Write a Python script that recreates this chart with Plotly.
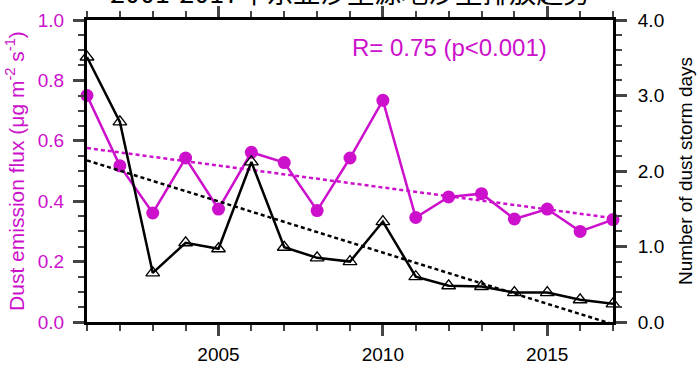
import plotly.graph_objects as go

years = list(range(2001, 2018))
flux = [0.75, 0.517, 0.361, 0.543, 0.374, 0.562, 0.528, 0.369, 0.543, 0.734,
        0.346, 0.414, 0.425, 0.341, 0.374, 0.300, 0.339]
storm_days = [3.51, 2.65, 0.65, 1.05, 0.97, 2.12, 0.99, 0.85, 0.80, 1.33,
              0.60, 0.48, 0.47, 0.39, 0.39, 0.295, 0.24]
trend_years = [2001, 2017]
flux_trend = [0.576, 0.344]
days_trend = [2.14, -0.03]

title_text = "2001-2017年东亚沙尘源地沙尘排放趋势"
r_text = "R= 0.75 (p<0.001)"

MAG = "#cc10cc"
FONT = "Liberation Sans, Arial, sans-serif"

fig = go.Figure()
fig.add_trace(go.Scatter(x=trend_years, y=flux_trend, mode="lines",
                         line=dict(color=MAG, width=2.5, dash="4px,3px"),
                         showlegend=False, yaxis="y"))
fig.add_trace(go.Scatter(x=trend_years, y=days_trend, mode="lines",
                         line=dict(color="black", width=2.5, dash="4px,3px"),
                         showlegend=False, yaxis="y2"))
fig.add_trace(go.Scatter(x=years, y=flux, mode="lines+markers",
                         line=dict(color=MAG, width=2.5),
                         marker=dict(symbol="circle", size=13, color=MAG),
                         showlegend=False, yaxis="y", cliponaxis=False))
fig.add_trace(go.Scatter(x=years, y=storm_days, mode="lines+markers",
                         line=dict(color="black", width=2.5),
                         marker=dict(symbol="triangle-up-open", size=12, color="black",
                                     line=dict(width=1.3)),
                         showlegend=False, yaxis="y2", cliponaxis=False))

fig.update_layout(
    template="none",
    width=700, height=369,
    margin=dict(l=87, r=87, t=20, b=47, autoexpand=False),
    paper_bgcolor="white", plot_bgcolor="white",
    font=dict(family=FONT, size=19, color="black"),
    xaxis=dict(range=[2001, 2017], tick0=2000, dtick=5, ticks="outside", ticklen=11,
               tickwidth=2.5, showline=True, linewidth=3, linecolor="black",
               mirror="ticks", showgrid=False, zeroline=False, automargin=False,
               tickfont=dict(size=19), ticklabelstandoff=2,
               minor=dict(dtick=1, tick0=2000, ticks="outside", ticklen=6, tickwidth=2,
                          showgrid=False)),
    yaxis=dict(range=[0, 1], dtick=0.2, tickformat=".1f", ticks="outside", ticklen=11,
               tickwidth=2.5, showline=True, linewidth=3, linecolor="black",
               showgrid=False, zeroline=False, automargin=False, ticklabelstandoff=5,
               tickfont=dict(size=19, color=MAG),
               minor=dict(dtick=0.05, ticks="outside", ticklen=6, tickwidth=2,
                          showgrid=False)),
    yaxis2=dict(range=[0, 4], dtick=1, tickformat=".1f", ticks="outside", ticklen=11,
                tickwidth=2.5, showline=True, linewidth=3, linecolor="black",
                overlaying="y", side="right", showgrid=False, zeroline=False,
                automargin=False, ticklabelstandoff=7,
                tickfont=dict(size=19, color="black"),
                minor=dict(dtick=0.2, ticks="outside", ticklen=6, tickwidth=2,
                           showgrid=False)),
    annotations=[
        dict(text=title_text, x=0.5, y=1 + 28 / 302, xref="paper", yref="paper",
             xanchor="center", yanchor="middle", showarrow=False,
             font=dict(size=27, color="black", family="Noto Sans CJK SC, sans-serif")),
        dict(text=r_text, x=2012.03, y=0.908, xref="x", yref="y", showarrow=False,
             font=dict(size=24, color=MAG)),
        dict(text="Dust emission flux (μg m<sup>-2</sup> s<sup>-1</sup>)",
             x=-0.137, y=0.5, xref="paper", yref="paper", textangle=-90,
             xanchor="center", yanchor="middle",
             showarrow=False, font=dict(size=21, color=MAG)),
        dict(text="Number of dust storm days", x=1.137, y=0.5, xref="paper",
             yref="paper", textangle=-90, xanchor="center", yanchor="middle",
             showarrow=False, font=dict(size=19, color="black")),
    ],
)

fig.write_html("out.html", config={"displayModeBar": False},
               post_script="document.body.style.margin='0';")
